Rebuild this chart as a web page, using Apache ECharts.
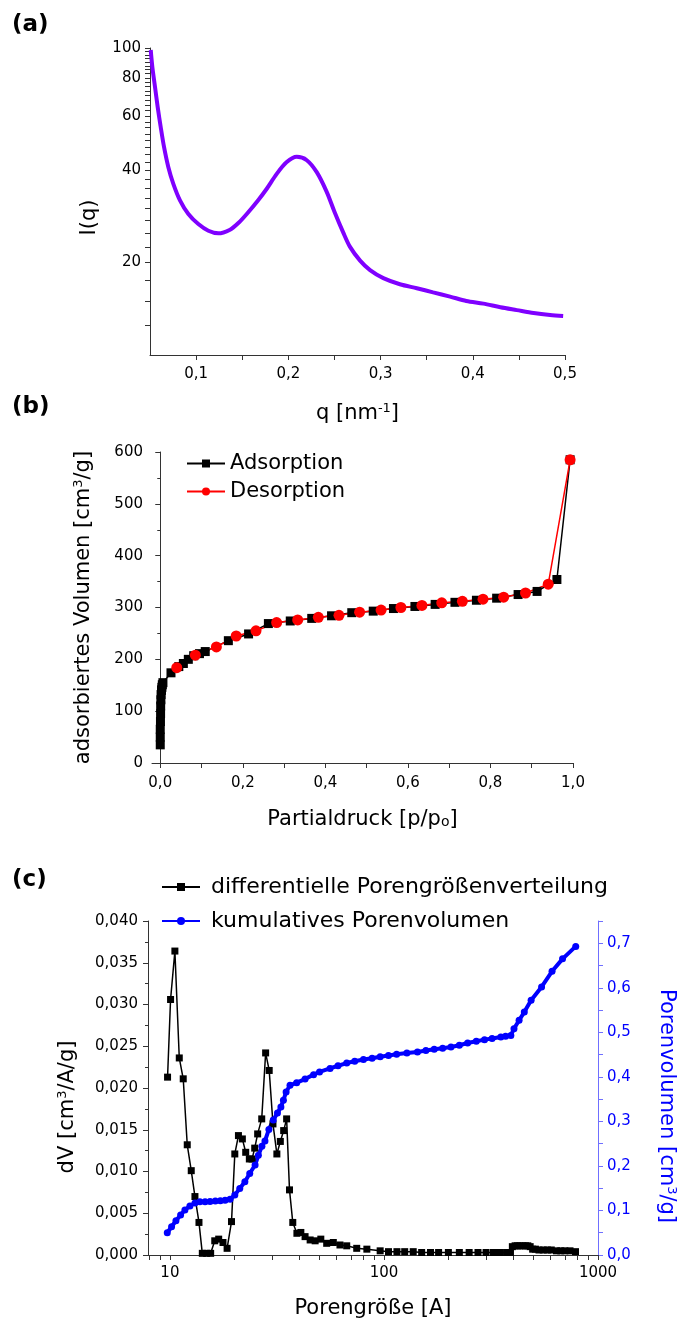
<!DOCTYPE html>
<html>
<head>
<meta charset="utf-8">
<script src="https://cdn.jsdelivr.net/npm/echarts@6/dist/echarts.min.js"></script>
<style>
html, body { margin: 0; padding: 0; background: #fff; }
#chart { width: 690px; height: 1321px; }
</style>
</head>
<body>
<div id="chart"></div>
<script>
// (a) SAXS curve
const qValues = [0.0508, 0.0525, 0.0554, 0.0583, 0.0616, 0.0652, 0.0699, 0.0753, 0.0825, 0.0916,
  0.1024, 0.1133, 0.1241, 0.1368, 0.1458, 0.1549, 0.1675, 0.1766, 0.1874, 0.1983, 0.2091, 0.2200,
  0.2308, 0.2416, 0.2500, 0.2597, 0.2669, 0.2778, 0.2886, 0.3030, 0.3210, 0.3393, 0.3570,
  0.3754, 0.3930, 0.4115, 0.4300, 0.4477, 0.4660, 0.4838, 0.4980];
const intensityValues = [98.5, 86.9, 74.8, 64.3, 55.3, 47.6, 40.9, 36.1, 31.9, 28.8,
  26.7, 25.4, 24.9, 25.6, 26.9, 28.8, 32.0, 34.8, 38.9, 42.5, 44.2, 43.1,
  39.4, 34.0, 29.3, 25.0, 22.5, 20.3, 18.9, 17.8, 17.0, 16.5, 16.0,
  15.5, 15.0, 14.7, 14.3, 14.0, 13.7, 13.5, 13.4];
const aYTickLabels = [20, 40, 60, 80, 100];
const aYTicks = [12.5, 15, 17.5, 20, 22.5, 25, 27.5, 30, 32.5, 35, 37.5, 40, 42.5, 45, 47.5, 50,
  52.5, 55, 57.5, 60, 62.5, 65, 67.5, 70, 72.5, 75, 77.5, 80, 82.5, 85, 87.5, 90, 92.5, 95, 97.5, 100];
const aXTickLabels = [0.1, 0.2, 0.3, 0.4, 0.5];
const aXTicks = [0.1, 0.15, 0.2, 0.25, 0.3, 0.35, 0.4, 0.45, 0.5];

// (b) isotherm
const adsorptionP = [0, 0, 0, 0.0005, 0.0008, 0.001, 0.0015, 0.002, 0.003, 0.004, 0.005, 0.0065,
  0.026, 0.045, 0.056, 0.068, 0.081, 0.095, 0.109, 0.165, 0.214, 0.262, 0.315, 0.367, 0.415,
  0.464, 0.516, 0.565, 0.617, 0.666, 0.714, 0.766, 0.815, 0.867, 0.913, 0.961, 0.993];
const adsorptionV = [35, 50, 65, 80, 95, 110, 122, 132, 140, 146, 151, 155,
  174, 186, 192, 200, 207, 211, 215, 236, 249, 269, 274, 279, 284,
  290, 293, 298, 302, 306, 310, 314, 318, 325, 331, 354, 585];
const desorptionP = [0.040, 0.085, 0.136, 0.184, 0.232, 0.282, 0.333, 0.383, 0.433, 0.483, 0.535,
  0.583, 0.634, 0.682, 0.732, 0.782, 0.832, 0.885, 0.940, 0.993];
const desorptionV = [184, 208, 224, 245, 255, 271, 276, 281, 285, 291, 295,
  300, 304, 309, 312, 316, 320, 328, 345, 585];
const bXTickLabels = [0, 0.2, 0.4, 0.6, 0.8, 1.0];
const bXTicks = [0, 0.1, 0.2, 0.3, 0.4, 0.5, 0.6, 0.7, 0.8, 0.9, 1.0];

// (c) pore size distribution
const poreSizeDiff = [9.75, 10.07, 10.55, 11.06, 11.54, 12.05, 12.58, 13.09, 13.67, 14.17, 14.85,
  15.5, 16.2, 16.9, 17.7, 18.5, 19.4, 20.1, 20.9, 21.8, 22.6, 23.5, 24.2, 24.9, 25.7, 26.85,
  28.0, 29.1, 30.3, 31.6, 32.8, 34.0, 35.1, 36.2, 37.5, 39.2, 40.9, 42.8, 45.2, 47.7, 50.7,
  54.0, 58.0, 62.3, 67.0, 74.6, 83.2, 96, 105, 115, 125, 137, 150, 165, 180, 200, 225, 250,
  275, 300, 325, 350, 375, 390, 398, 410, 420, 432, 445, 458, 470, 482, 495, 510, 530, 555,
  580, 605, 640, 670, 700, 740, 785];
const dVValues = [0.0213, 0.0306, 0.0364, 0.0236, 0.0211, 0.0132, 0.0101, 0.0070, 0.0039, 0.0002, 0.0002,
  0.0002, 0.0017, 0.0019, 0.0015, 0.0008, 0.0040, 0.0121, 0.0143, 0.0139, 0.0123, 0.0115, 0.0115, 0.0128, 0.0145, 0.0163,
  0.0242, 0.0221, 0.0157, 0.0121, 0.0136, 0.0149, 0.0163, 0.0078, 0.0039, 0.0026, 0.0027, 0.0022, 0.0018, 0.0017, 0.0019,
  0.0014, 0.0015, 0.0012, 0.0011, 0.0008, 0.0007, 0.0005, 0.0004, 0.0004, 0.0004, 0.0004, 0.0003, 0.0003, 0.0003, 0.0003, 0.0003, 0.0003,
  0.0003, 0.0003, 0.0003, 0.0003, 0.0003, 0.0003, 0.0010, 0.0011, 0.0011, 0.0011, 0.0011, 0.0011, 0.0011, 0.0010, 0.0007, 0.0007, 0.0006, 0.0006,
  0.0006, 0.0006, 0.0005, 0.0005, 0.0005, 0.0005, 0.0004];
const poreSizeCum = [9.72, 10.18, 10.67, 11.22, 11.75, 12.4, 13.1, 13.8, 14.6, 15.4, 16.3, 17.2, 18.1,
  19.1, 20.1, 21.2, 22.4, 23.6, 25.0, 25.9, 26.9, 27.8, 29.0, 30.4, 31.8, 33.0, 33.9, 34.9,
  36.4, 39.1, 42.8, 46.9, 50, 56.0, 61, 67.0, 73, 80.2, 88, 96, 105, 114.6, 128, 143.4, 157, 171.7,
  188, 205.6, 225, 246, 270, 295, 320, 351.6, 370, 391.6, 405, 428, 452.5, 487, 545, 610, 683, 787];
const cumVolume = [0.050, 0.0635, 0.077, 0.090, 0.101, 0.110, 0.117, 0.1195, 0.1195, 0.120, 0.121, 0.122, 0.123,
  0.125, 0.1345, 0.1495, 0.1645, 0.183, 0.202, 0.224, 0.244, 0.256, 0.282, 0.303, 0.319, 0.3325, 0.3475, 0.366,
  0.381, 0.387, 0.395, 0.405, 0.411, 0.419, 0.425, 0.431, 0.435, 0.439, 0.442, 0.445, 0.448, 0.451, 0.4535, 0.456, 0.459, 0.462,
  0.4645, 0.467, 0.471, 0.476, 0.480, 0.4836, 0.486, 0.4895, 0.491, 0.493, 0.508, 0.527, 0.5455, 0.572, 0.602, 0.637, 0.665, 0.693];
const cXTickLabels = [10, 100, 1000];
const cXTicks = [8, 9, 10, 20, 30, 40, 50, 60, 70, 80, 90, 100, 200, 300, 400, 500, 600, 700, 800, 900, 1000];
const cRightTickLabels = [0, 0.1, 0.2, 0.3, 0.4, 0.5, 0.6, 0.7];
const cRightTicks = [0, 0.05, 0.1, 0.15, 0.2, 0.25, 0.3, 0.35, 0.4, 0.45, 0.5, 0.55, 0.6, 0.65, 0.7, 0.75];

const pair = (xs, ys) => xs.map((x, i) => [x, ys[i]]);
const comma = (v, d) => v.toFixed(d).replace('.', ',');
const FONT = 'DejaVu Sans';
const axisColor = '#333';

var chart = echarts.init(document.getElementById('chart'), null, { renderer: 'canvas' });

const baseLine = { lineStyle: { color: axisColor, width: 1 } };
const labelStyle = { fontFamily: FONT, fontSize: 15, color: '#000' };
const richFor = (color) => ({
  sup: { fontFamily: FONT, fontSize: 13, padding: [0, 0, 10, 0], color: color },
  sub: { fontFamily: FONT, fontSize: 14, padding: [6, 0, 0, 0], color: color }
});
const nameStyle = (color, padding) => ({
  fontFamily: FONT, fontSize: 21, color: color, padding: padding || 0, rich: richFor(color)
});

var option = {
  animation: false,
  backgroundColor: '#fff',
  textStyle: { fontFamily: FONT },
  graphic: [
    { type: 'text', left: 12, top: 14, style: { text: '(a)', font: 'bold 23px "DejaVu Sans"', fill: '#000' } },
    { type: 'text', left: 12, top: 396, style: { text: '(b)', font: 'bold 23px "DejaVu Sans"', fill: '#000' } },
    { type: 'text', left: 12, top: 869, style: { text: '(c)', font: 'bold 23px "DejaVu Sans"', fill: '#000' } }
  ],
  grid: [
    { left: 150, top: 48, width: 415, height: 307 },
    { left: 152, top: 452, width: 421, height: 311 },
    { left: 148, top: 921, width: 450, height: 334 }
  ],
  legend: [
    {
      data: ['Adsorption', 'Desorption'], orient: 'vertical', left: 186, top: 453,
      itemWidth: 38, itemHeight: 10, itemGap: 7, padding: 0,
      textStyle: { fontFamily: FONT, fontSize: 21, color: '#000' }
    },
    {
      data: ['differentielle Porengrößenverteilung', 'kumulatives Porenvolumen'], orient: 'vertical',
      left: 161, top: 876, itemWidth: 38, itemHeight: 10, itemGap: 12, padding: 0,
      textStyle: { fontFamily: FONT, fontSize: 22, color: '#000', padding: [0, 0, 0, 6] }
    }
  ],
  xAxis: [
    {
      gridIndex: 0, type: 'value', min: 0.05, max: 0.5,
      name: 'q [nm{sup|-1}]', nameLocation: 'middle', nameGap: 47, nameTextStyle: nameStyle('#000'),
      axisLine: baseLine, splitLine: { show: false },
      axisTick: { length: 5, customValues: aXTicks },
      axisLabel: Object.assign({ margin: 12, customValues: aXTickLabels, formatter: v => comma(v, 1) }, labelStyle)
    },
    {
      gridIndex: 1, type: 'value', min: -0.02, max: 1.0,
      name: 'Partialdruck [p/p{sub|o}]', nameLocation: 'middle', nameGap: 46, nameTextStyle: nameStyle('#000'),
      axisLine: baseLine, splitLine: { show: false },
      axisTick: { length: 5, customValues: bXTicks },
      axisLabel: Object.assign({ margin: 13, customValues: bXTickLabels, formatter: v => comma(v, 1) }, labelStyle)
    },
    {
      // data axis for (c), logarithmic
      gridIndex: 2, type: 'log', logBase: 10, min: 7.9, max: 1000, position: 'top', show: false
    },
    {
      // drawn axis for (c) in decades
      gridIndex: 2, type: 'value', min: Math.log10(7.9), max: 3, position: 'bottom',
      name: 'Porengröße [A]', nameLocation: 'middle', nameGap: 43, nameTextStyle: nameStyle('#000'),
      axisLine: baseLine, splitLine: { show: false },
      axisTick: { length: 5, customValues: cXTicks.map(v => Math.log10(v)) },
      axisLabel: Object.assign({ margin: 11, customValues: cXTickLabels.map(v => Math.round(Math.log10(v))),
        formatter: v => String(Math.round(Math.pow(10, v))) }, labelStyle)
    }
  ],
  yAxis: [
    {
      // data axis for (a), logarithmic
      gridIndex: 0, type: 'log', logBase: 10, min: 10, max: 100, position: 'right', show: false
    },
    {
      gridIndex: 0, type: 'value', min: 1, max: 2, position: 'left',
      name: 'I(q)', nameLocation: 'middle', nameGap: 50, nameTextStyle: nameStyle('#000', [0, 32, 0, 0]),
      axisLine: Object.assign({ show: true }, baseLine), splitLine: { show: false },
      axisTick: { length: 5, customValues: aYTicks.map(v => Math.log10(v)) },
      axisLabel: Object.assign({ margin: 9, customValues: aYTickLabels.map(v => Math.log10(v)),
        formatter: v => String(Math.round(Math.pow(10, v))) }, labelStyle)
    },
    {
      gridIndex: 1, type: 'value', min: 0, max: 600, interval: 100,
      name: 'adsorbiertes Volumen [cm{sup|3}/g]', nameLocation: 'middle', nameGap: 57, nameTextStyle: nameStyle('#000'),
      axisLine: Object.assign({ show: true }, baseLine), splitLine: { show: false },
      axisTick: { length: 5 }, minorTick: { show: true, splitNumber: 2, length: 3, lineStyle: { color: axisColor } },
      axisLabel: Object.assign({ margin: 9 }, labelStyle)
    },
    {
      gridIndex: 2, type: 'value', min: 0, max: 0.04, interval: 0.005, position: 'left',
      name: 'dV [cm{sup|3}/A/g]', nameLocation: 'middle', nameGap: 69, nameTextStyle: nameStyle('#000', [0, 38, 0, 0]),
      axisLine: Object.assign({ show: true }, baseLine), splitLine: { show: false },
      axisTick: { length: 5 }, minorTick: { show: true, splitNumber: 2, length: 3, lineStyle: { color: axisColor } },
      axisLabel: Object.assign({ margin: 10, formatter: v => comma(v, 3) }, labelStyle)
    },
    {
      gridIndex: 2, type: 'value', min: 0, max: 0.75, position: 'right',
      name: 'Porenvolumen [cm{sup|3}/g]', nameLocation: 'middle', nameGap: 57, nameRotate: -90,
      nameTextStyle: nameStyle('#0000ff', [0, 0, 0, 36]),
      axisLine: { show: true, lineStyle: { color: '#6f6fff', width: 1 } }, splitLine: { show: false },
      axisTick: { length: 5, customValues: cRightTicks, lineStyle: { color: '#6f6fff' } },
      axisLabel: Object.assign({}, labelStyle, { margin: 9, color: '#0000ff', customValues: cRightTickLabels,
        formatter: v => comma(v, 1) })
    }
  ],
  series: [
    {
      type: 'line', xAxisIndex: 0, yAxisIndex: 0, data: pair(qValues, intensityValues),
      showSymbol: false, smooth: 0.3, lineStyle: { color: '#7f00ff', width: 4 }, itemStyle: { color: '#7f00ff' }
    },
    {
      name: 'Adsorption', type: 'line', xAxisIndex: 1, yAxisIndex: 2, data: pair(adsorptionP, adsorptionV),
      symbol: 'rect', symbolSize: 9, lineStyle: { color: '#000', width: 1.5 }, itemStyle: { color: '#000' }
    },
    {
      name: 'Desorption', type: 'line', xAxisIndex: 1, yAxisIndex: 2, data: pair(desorptionP, desorptionV),
      symbol: 'circle', symbolSize: 11, lineStyle: { color: '#ff0000', width: 1.5 }, itemStyle: { color: '#ff0000' }
    },
    {
      name: 'differentielle Porengrößenverteilung', type: 'line', xAxisIndex: 2, yAxisIndex: 3,
      data: pair(poreSizeDiff, dVValues),
      symbol: 'rect', symbolSize: 7, lineStyle: { color: '#000', width: 1.5 }, itemStyle: { color: '#000' }
    },
    {
      name: 'kumulatives Porenvolumen', type: 'line', xAxisIndex: 2, yAxisIndex: 4,
      data: pair(poreSizeCum, cumVolume),
      symbol: 'circle', symbolSize: 7, lineStyle: { color: '#0000ff', width: 4 }, itemStyle: { color: '#0000ff' }
    }
  ]
};

option && chart.setOption(option);
</script>
</body>
</html>
